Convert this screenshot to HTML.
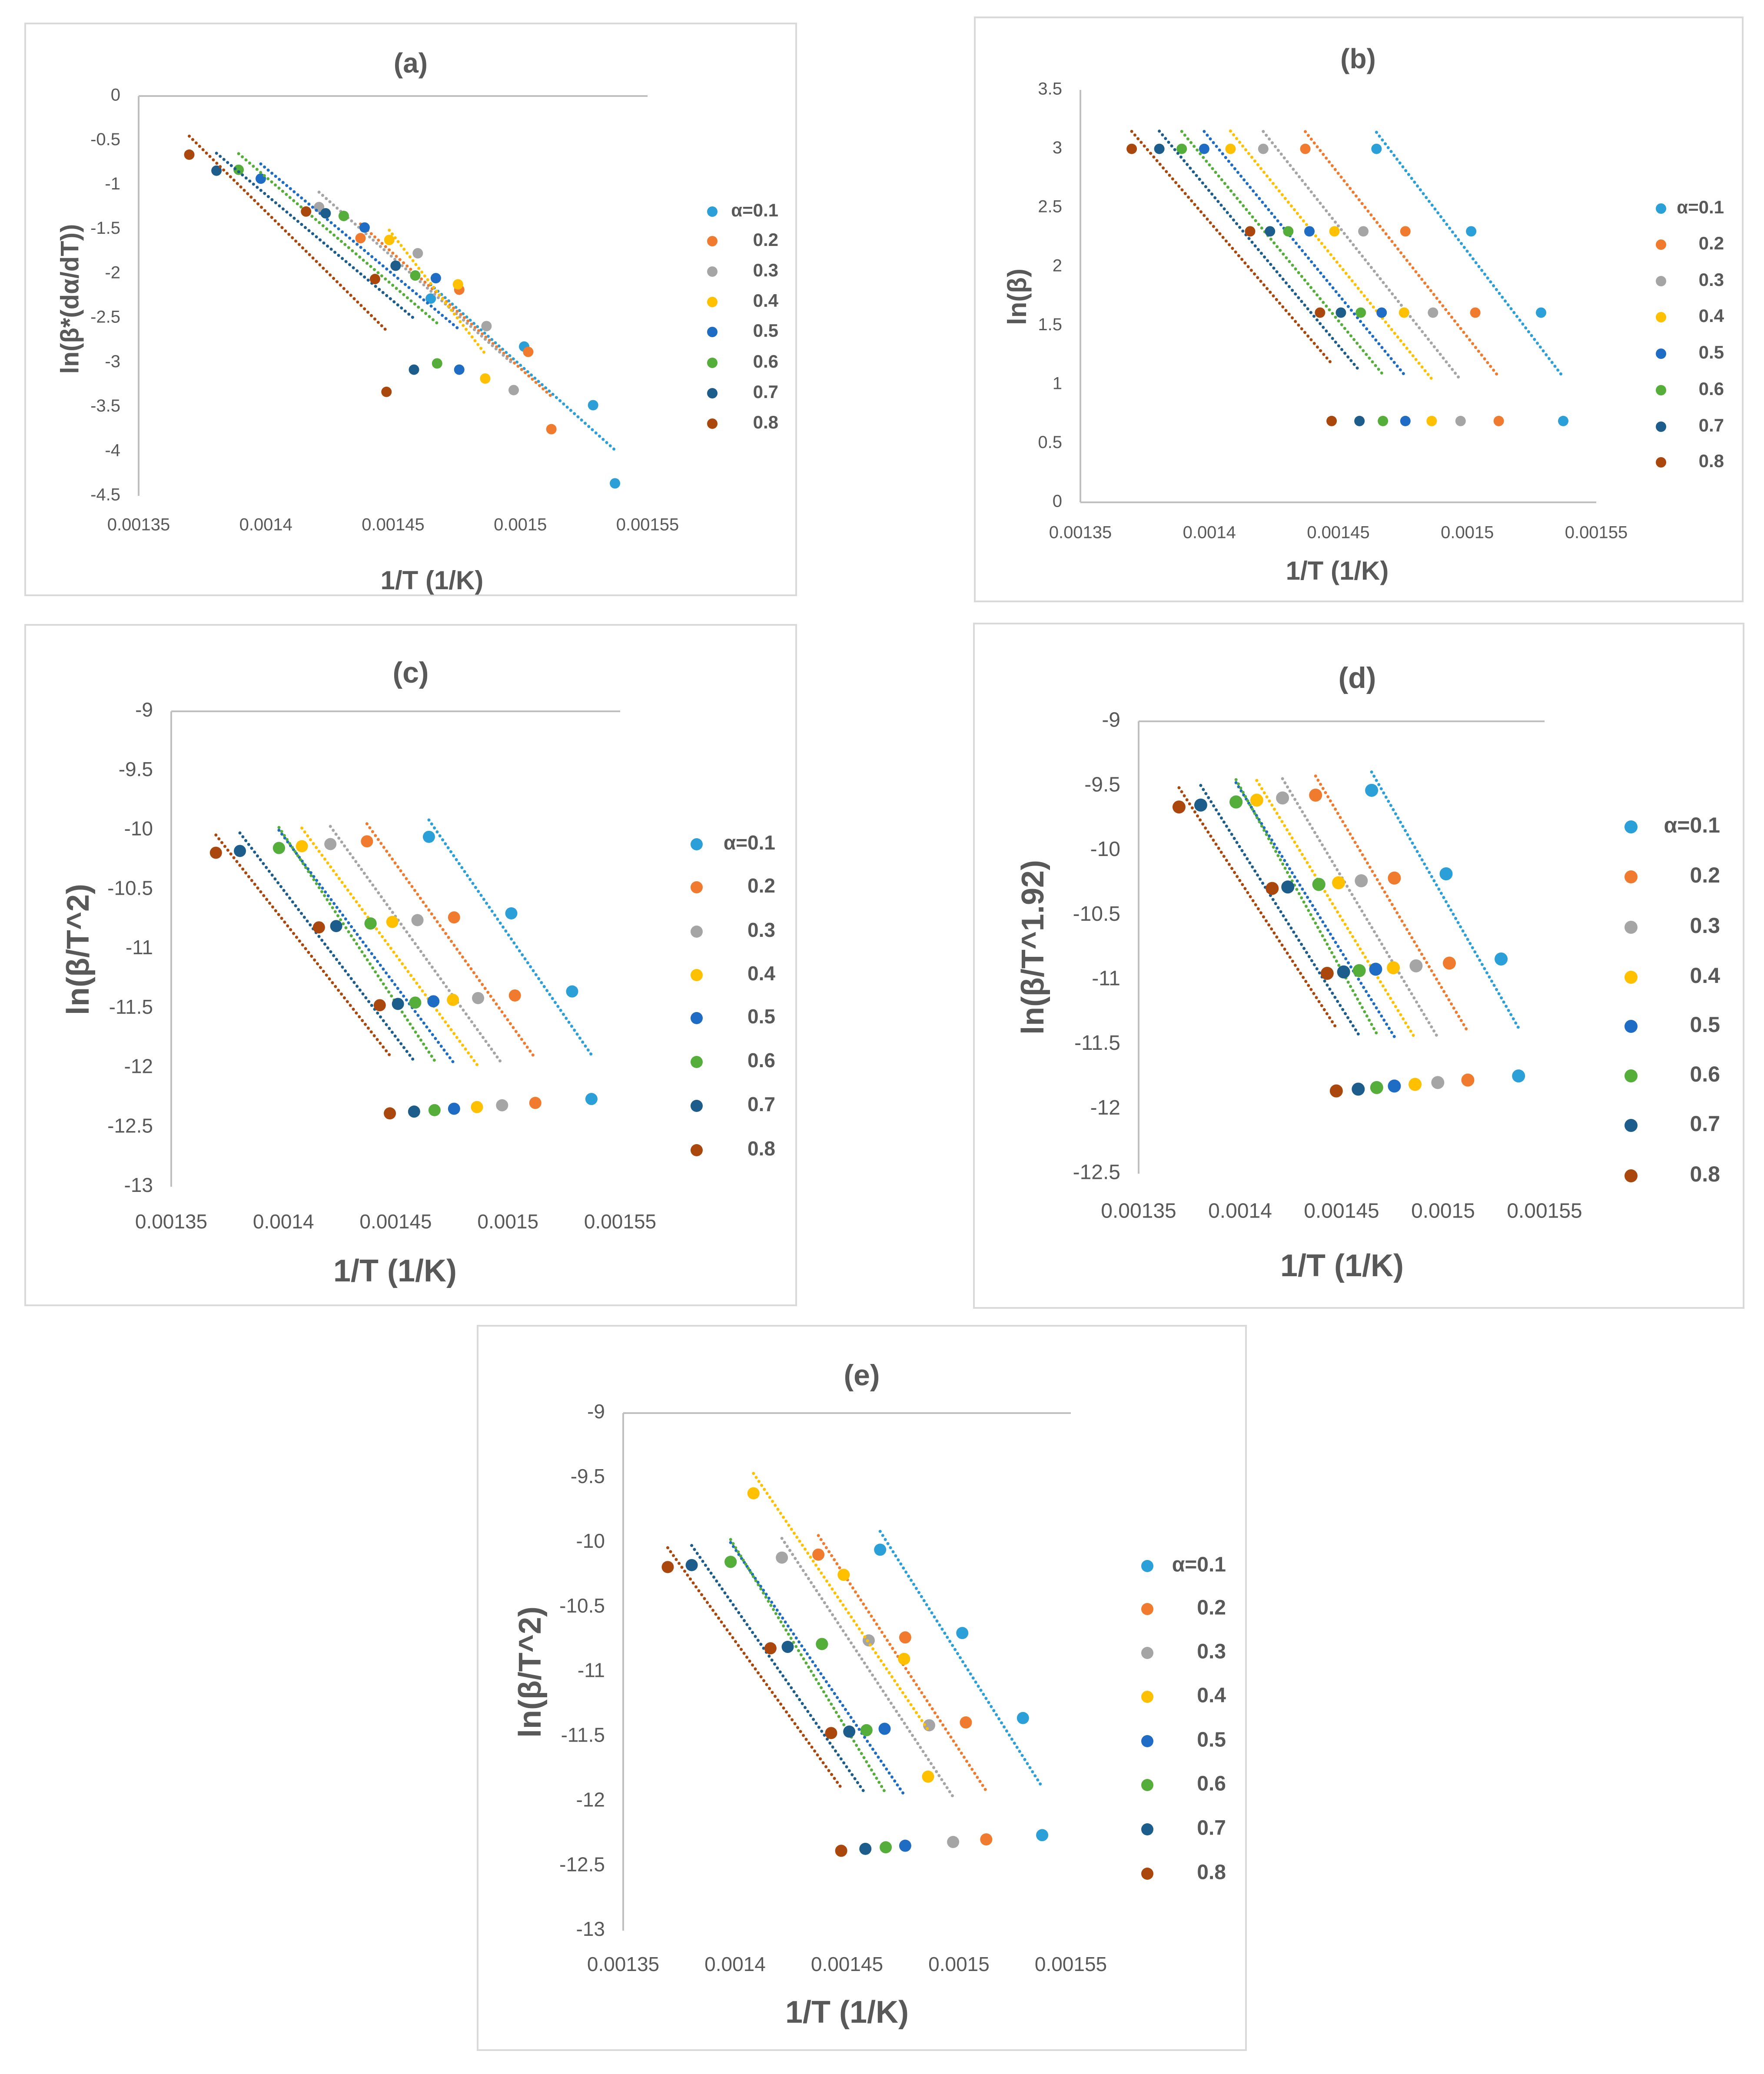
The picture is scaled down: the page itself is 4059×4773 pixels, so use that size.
<!DOCTYPE html>
<html><head><meta charset="utf-8">
<style>
html,body{margin:0;padding:0;background:#fff;}
svg{display:block;}
text{font-family:"Liberation Sans",sans-serif;fill:#595959;}
</style></head>
<body>
<svg id="fig" xmlns="http://www.w3.org/2000/svg" width="4059" height="4773" viewBox="0 0 4059 4773"></svg>
<script>
// ---------- data ----------
const seriesNames = ["α=0.1","0.2","0.3","0.4","0.5","0.6","0.7","0.8"];
const xTickLabels = ["0.00135","0.0014","0.00145","0.0015","0.00155"];
const xTickValues = [0.00135,0.0014,0.00145,0.0015,0.00155];
// 1/T values per series (four heating rates)
const x01 = [0.0014648,0.0015015,0.0015286,0.0015372];
const x02 = [0.0014372,0.0014760,0.0015031,0.0015122];
const x03 = [0.0014209,0.0014597,0.0014867,0.0014974];
const x04 = [0.0014082,0.0014485,0.0014755,0.0014862];
const x05 = [0.0013980,0.0014388,0.0014668,0.0014760];
const x06 = [0.0013893,0.0014306,0.0014587,0.0014673];
const x06cde = [0.0013980,0.0014388,0.0014587,0.0014673];
const x07 = [0.0013806,0.0014235,0.0014510,0.0014582];
const x08 = [0.0013699,0.0014158,0.0014429,0.0014474];
// panel (a)
const yA01 = [-2.28,-2.82,-3.48,-4.36];
const yA02 = [-1.60,-2.18,-2.88,-3.75];
const yA03 = [-1.25,-1.77,-2.59,-3.31];
const yA04 = [null,-1.62,-2.12,-3.18];
const yA05 = [-0.93,-1.48,-2.05,-3.08];
const yA06 = [-0.83,-1.35,-2.02,-3.01];
const yA07 = [-0.84,-1.32,-1.91,-3.08];
const yA08 = [-0.66,-1.30,-2.06,-3.33];
// panel (b)
const yBAll = [3.00,2.30,1.61,0.69];
// panel (c)
const yC01 = [-10.056,-10.700,-11.357,-12.262];
const yC02 = [-10.094,-10.734,-11.391,-12.295];
const yC03 = [-10.117,-10.757,-11.413,-12.315];
const yC04 = [-10.135,-10.772,-11.428,-12.330];
const yC05 = [-10.150,-10.785,-11.440,-12.344];
const yC06 = [-10.150,-10.785,-11.451,-12.356];
const yC07 = [-10.175,-10.807,-11.462,-12.368];
const yC08 = [-10.190,-10.818,-11.473,-12.383];
// panel (d)
const yD01 = [-9.534,-10.180,-10.839,-11.744];
const yD02 = [-9.571,-10.213,-10.871,-11.776];
const yD03 = [-9.593,-10.234,-10.892,-11.795];
const yD04 = [-9.610,-10.249,-10.907,-11.809];
const yD05 = [-9.624,-10.262,-10.918,-11.822];
const yD06 = [-9.624,-10.262,-10.929,-11.834];
const yD07 = [-9.648,-10.282,-10.939,-11.846];
const yD08 = [-9.663,-10.293,-10.950,-11.860];
// panel (e)
const yE04 = [-9.62,-10.25,-10.90,-11.81];
// y tick labels
const yTicksA = [0,-0.5,-1,-1.5,-2,-2.5,-3,-3.5,-4,-4.5];
const yTicksB = [0,0.5,1,1.5,2,2.5,3,3.5];
const yTicksC = [-9,-9.5,-10,-10.5,-11,-11.5,-12,-12.5,-13];
const yTicksD = [-9,-9.5,-10,-10.5,-11,-11.5,-12,-12.5];
const yTicksE = [-9,-9.5,-10,-10.5,-11,-11.5,-12,-12.5,-13];

const xsAB = [x01,x02,x03,x04,x05,x06,x07,x08];
const xsCDE = [x01,x02,x03,x04,x05,x06cde,x07,x08];
const colors = ["#2A9FD8","#F07B2E","#A5A5A5","#FFC000","#1F6CC4","#55AE3A","#1C5D8C","#A9470D"];

const panels = [
 {id:"a",title:"(a)",ylab:"ln(β*(dα/dT))",xs:xsAB,ys:[yA01,yA02,yA03,yA04,yA05,yA06,yA07,yA08],ticks:yTicksA,
  box:[58,54,1832,1370],ax0:319,ax1:1490,yTop:221,yBot:1141,ymax:0,ymin:-4.5,hline:"top",
  tickY:1210,tickFs:40,titleXY:[945,150],titleFs:64,ylabXY:[165,688],ylabFs:58,xlabXY:[994,1340],xlabFs:60,
  legX:1639,legTextX:1791,legY:[487,555,625,695,764,835,905,975],legFs:42,r:12},
 {id:"b",title:"(b)",ylab:"ln(β)",xs:xsAB,ys:[yBAll,yBAll,yBAll,yBAll,yBAll,yBAll,yBAll,yBAll],ticks:yTicksB,
  box:[2243,40,4010,1384],ax0:2486,ax1:3673,yTop:207,yBot:1156,ymax:3.5,ymin:0,hline:"bottom",
  tickY:1228,tickFs:40,titleXY:[3125,140],titleFs:64,ylabXY:[2345,683],ylabFs:60,xlabXY:[3077,1318],xlabFs:60,
  legX:3822,legTextX:3967,legY:[480,563,647,730,814,898,982,1064],legFs:42,r:12},
 {id:"c",title:"(c)",ylab:"ln(β/T^2)",xs:xsCDE,ys:[yC01,yC02,yC03,yC04,yC05,yC06,yC07,yC08],ticks:yTicksC,
  box:[58,1438,1832,3004],ax0:394,ax1:1427,yTop:1637,yBot:2731,ymax:-9,ymin:-13,hline:"top",
  tickY:2815,tickFs:46,titleXY:[945,1553],titleFs:68,ylabXY:[185,2185],ylabFs:72,xlabXY:[909,2930],xlabFs:72,
  legX:1603,legTextX:1784,legY:[1943,2042,2144,2244,2343,2444,2545,2647],legFs:46,r:14},
 {id:"d",title:"(d)",ylab:"ln(β/T^1.92)",xs:xsCDE,ys:[yD01,yD02,yD03,yD04,yD05,yD06,yD07,yD08],ticks:yTicksD,
  box:[2241,1435,4012,3010],ax0:2620,ax1:3554,yTop:1660,yBot:2701,ymax:-9,ymin:-12.5,hline:"top",
  tickY:2790,tickFs:48,titleXY:[3123,1565],titleFs:68,ylabXY:[2382,2180],ylabFs:72,xlabXY:[3088,2918],xlabFs:72,
  legX:3753,legTextX:3958,legY:[1903,2018,2134,2249,2362,2476,2590,2706],legFs:50,r:15},
 {id:"e",title:"(e)",ylab:"ln(β/T^2)",xs:xsCDE,ys:[yC01,yC02,yC03,yE04,yC05,yC06,yC07,yC08],ticks:yTicksE,
  box:[1099,3051,2867,4718],ax0:1434,ax1:2464,yTop:3252,yBot:4443,ymax:-9,ymin:-13,hline:"top",
  tickY:4524,tickFs:46,titleXY:[1983,3170],titleFs:68,ylabXY:[1225,3848],ylabFs:72,xlabXY:[1949,4636],xlabFs:72,
  legX:2640,legTextX:2821,legY:[3604,3703,3804,3905,4007,4108,4210,4312],legFs:48,r:14}
];

const NS="http://www.w3.org/2000/svg";
const svg=document.getElementById("fig");
function mk(tag,attrs,parent){const e=document.createElementNS(NS,tag);for(const k in attrs)e.setAttribute(k,attrs[k]);(parent||svg).appendChild(e);return e;}

panels.forEach(p=>{
  const g=mk("g",{});
  
  
  const X=v=>p.ax0+(v-0.00135)/0.0002*(p.ax1-p.ax0);
  const Y=v=>p.yTop+(p.ymax-v)/(p.ymax-p.ymin)*(p.yBot-p.yTop);
  const b=p.box;
  const frame=mk("rect",{x:b[0],y:b[1],width:b[2]-b[0],height:b[3]-b[1],fill:"#fff",stroke:"#D9D9D9","stroke-width":4},g);
  
  
  const t=mk("text",{x:p.titleXY[0],y:p.titleXY[1],"text-anchor":"middle","font-size":p.titleFs,"font-weight":"bold","dominant-baseline":"middle"},g);
  t.textContent=p.title;
  
  
  const ya=mk("line",{x1:p.ax0,y1:p.yTop,x2:p.ax0,y2:p.yBot,stroke:"#BFBFBF","stroke-width":4},g);
  
  
  const hy=p.hline==="top"?p.yTop:p.yBot;
  const xa=mk("line",{x1:p.ax0,y1:hy,x2:p.ax1,y2:hy,stroke:"#BFBFBF","stroke-width":4},g);
  
  
  p.ticks.forEach(v=>{
    const tl=mk("text",{x:p.ax0-42,y:Y(v),"text-anchor":"end","dominant-baseline":"middle","font-size":p.tickFs},g);
    tl.textContent=String(v);
    
    
  });
  xTickValues.forEach((v,i)=>{
    const tl=mk("text",{x:X(v),y:p.tickY,"text-anchor":"middle","dominant-baseline":"middle","font-size":p.tickFs},g);
    tl.textContent=xTickLabels[i];
    
    
  });
  const yl=mk("text",{x:p.ylabXY[0],y:p.ylabXY[1],"text-anchor":"middle","dominant-baseline":"middle","font-size":p.ylabFs,"font-weight":"bold",transform:`rotate(-90 ${p.ylabXY[0]} ${p.ylabXY[1]})`},g);
  yl.textContent=p.ylab;
  
  
  const xl=mk("text",{x:p.xlabXY[0],y:p.xlabXY[1],"text-anchor":"middle","dominant-baseline":"middle","font-size":p.xlabFs,"font-weight":"bold"},g);
  xl.textContent="1/T (1/K)";
  
  
  for(let s=0;s<8;s++){
    const xv=p.xs[s], yv=p.ys[s];
    const pts=[];
    for(let i=0;i<xv.length;i++) if(yv[i]!==null) pts.push([xv[i],yv[i]]);
    const n=pts.length;
    const mx=pts.reduce((a,q)=>a+q[0],0)/n, my=pts.reduce((a,q)=>a+q[1],0)/n;
    let sxy=0,sxx=0; pts.forEach(q=>{sxy+=(q[0]-mx)*(q[1]-my);sxx+=(q[0]-mx)*(q[0]-mx);});
    const k=sxy/sxx;
    const xmin=Math.min(...pts.map(q=>q[0])), xmax=Math.max(...pts.map(q=>q[0]));
    const tr=mk("line",{x1:X(xmin),y1:Y(my+k*(xmin-mx)),x2:X(xmax),y2:Y(my+k*(xmax-mx)),stroke:colors[s],"stroke-width":7,"stroke-dasharray":"0.1 11","stroke-linecap":"round"},g);
    
    
    pts.forEach(q=>{
      const c=mk("circle",{cx:X(q[0]),cy:Y(q[1]),r:p.r,fill:colors[s]},g);
      
      
    });
    const lc=mk("circle",{cx:p.legX,cy:p.legY[s],r:p.r,fill:colors[s]},g);
    
    
    const lt=mk("text",{x:p.legTextX,y:p.legY[s],"text-anchor":"end","dominant-baseline":"middle","font-size":p.legFs,"font-weight":"bold"},g);
    lt.textContent=seriesNames[s];
    
    
  }
});
</script>
</body></html>
